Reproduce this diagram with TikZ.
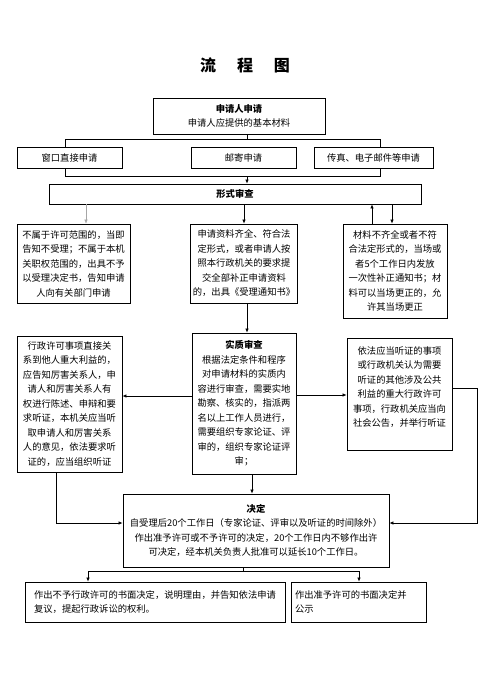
\documentclass[tikz,border=0pt]{standalone}
\usepackage{fontspec}
\setmainfont{Noto Sans CJK SC}
\newfontfamily\cjk{Noto Sans CJK SC}
\usetikzlibrary{arrows.meta}
\begin{document}
\begin{tikzpicture}[x=1pt,y=-1pt,
  box/.style={draw,fill=white,line width=0.8pt,inner sep=2pt,align=center,
    font=\cjk\fontsize{9.3}{14.5}\selectfont},
  conn/.style={line width=0.7pt},
  arr/.style={line width=0.7pt,-{Latex[length=4pt,width=3.5pt]}},
  hd/.style={font=\cjk\bfseries}]
\useasboundingbox (0,0) rectangle (499,686);
\fill[white] (0,0) rectangle (499,686);
% title
\node[font=\cjk\bfseries\fontsize{16}{18}\selectfont] (title) at (245,65) {流\hspace{1.3em}程\hspace{1.3em}图};
% top box
\node[box,minimum width=172pt,minimum height=36pt] (top) at (239,116)
  {{\bfseries 申请人申请}\\申请人应提供的基本材料};
% bracket coordinates
\coordinate (ct) at (247,139);
\coordinate (lt) at (65,139);
\coordinate (rt) at (380,139);
\coordinate (lb) at (65,176);
\coordinate (rb) at (380,176);
\coordinate (cb) at (247,176);
\draw[conn] (top.south -| ct) -- (ct);
\draw[conn] (lt) -- (rt);
\draw[conn] (lt) -- (lb) -- (rb) -- (rt);
% row 1
\node[box,minimum width=105pt,minimum height=21pt] (w1) at (69.5,157.5) {窗口直接申请};
\node[box,minimum width=105pt,minimum height=21pt] (w2) at (243.5,157.5) {邮寄申请};
\node[box,minimum width=119pt,minimum height=21pt] (w3) at (373.5,157.5) {传真、电子邮件等申请};
% formal review
\node[box,minimum width=372pt,minimum height=20pt] (fs) at (235,194) {\bfseries 形式审查};
\draw[arr] (cb) -- (cb |- fs.north);
% row 2
\node[box,minimum width=113pt,minimum height=79pt] (r2a) at (73.5,263.5)
  {不属于许可范围的，当即\\告知不受理；不属于本机\\关职权范围的，出具不予\\以受理决定书，告知申请\\人向有关部门申请};
\node[box,minimum width=104pt,minimum height=79pt] (r2b) at (244,263.5)
  {申请资料齐全、符合法\\定形式，或者申请人按\\照本行政机关的要求提\\交全部补正申请资料\\的，出具《受理通知书》};
\node[box,minimum width=104pt,minimum height=94pt] (r2c) at (395,271)
  {材料不齐全或者不符\\合法定形式的，当场或\\者5个工作日内发放\\一次性补正通知书；材\\料可以当场更正的，允\\许其当场更正};
\coordinate (xa) at (86,0);
\coordinate (xb) at (244,0);
\coordinate (xu) at (372,0);
\coordinate (xd) at (392,0);
\draw[arr,gray!70,line width=0.5pt] (fs.south -| xa) -- (r2a.north -| xa);
\draw[arr] (fs.south -| xb) -- (r2b.north -| xb);
\draw[arr] (r2c.north -| xu) -- (fs.south -| xu);
\draw[arr] (fs.south -| xd) -- (r2c.north -| xd);
% row 3
\node[box,minimum width=105pt,minimum height=136pt] (r3a) at (69.5,404)
  {行政许可事项直接关\\系到他人重大利益的，\\应告知厉害关系人，申\\请人和厉害关系人有\\权进行陈述、申辩和要\\求听证，本机关应当听\\取申请人和厉害关系\\人的意见，依法要求听\\证的，应当组织听证};
\node[box,minimum width=104pt,minimum height=141pt] (r3b) at (244,403.5)
  {{\bfseries 实质审查}\\根据法定条件和程序\\对申请材料的实质内\\容进行审查，需要实地\\勘察、核实的，指派两\\名以上工作人员进行，\\需要组织专家论证、评\\审的，组织专家论证评\\审；};
\node[box,minimum width=105pt,minimum height=112pt] (r3c) at (399.5,394)
  {依法应当听证的事项\\或行政机关认为需要\\听证的其他涉及公共\\利益的重大行政许可\\事项，行政机关应当向\\社会公告，并举行听证\\\mbox{}};
\coordinate (x2) at (247,0);
\draw[arr] (r2b.south -| x2) -- (r3b.north -| x2);
\coordinate (yl) at (0,396);
\coordinate (yr) at (0,395);
\draw[arr] (r3b.west |- yl) -- (r3a.east |- yl);
\draw[arr] (r3b.east |- yr) -- (r3c.west |- yr);
% decision
\node[box,minimum width=266pt,minimum height=73pt] (dec) at (256,530.5)
  {{\bfseries 决定}\\自受理后20个工作日（专家论证、评审以及听证的时间除外）\\作出准予许可或不予许可的决定，20个工作日内不够作出许\\可决定，经本机关负责人批准可以延长10个工作日。};
\coordinate (x3) at (252,0);
\draw[arr] (r3b.south -| x3) -- (dec.north -| x3);
\coordinate (rc1) at (477,388);
\coordinate (rc2) at (477,523);
\draw[arr] (r3c.east |- rc1) -- (rc1) -- (rc2) -- (dec.east |- rc2);
\coordinate (lc1) at (56,523);
\draw[arr] (r3a.south -| lc1) -- (lc1) -- (dec.west |- lc1);
% bottom
\node[box,minimum width=260pt,minimum height=40pt,align=left] (b1) at (155,602)
  {作出不予行政许可的书面决定，说明理由，并告知依法申请\\复议，提起行政诉讼的权利。};
\node[box,minimum width=135pt,minimum height=40pt,align=left,text width=127pt] (b2) at (358.5,602)
  {作出准予许可的书面决定并\\公示};
\coordinate (bc) at (243,571);
\coordinate (bl) at (88,571);
\coordinate (br) at (359,571);
\draw[conn] (dec.south -| bc) -- (bc);
\draw[conn] (bl) -- (br);
\draw[arr] (bl) -- (b1.north -| bl);
\draw[arr] (br) -- (b2.north -| br);
\end{tikzpicture}
\end{document}
